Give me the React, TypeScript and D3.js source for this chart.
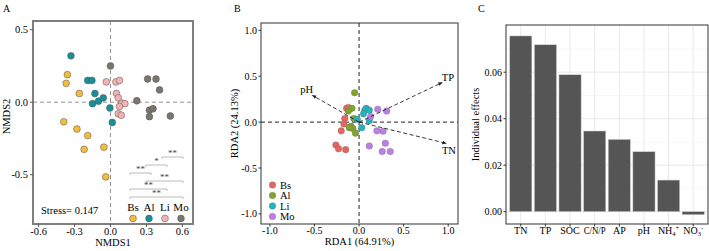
import React from "react";
import * as d3 from "d3";

// ---- Panel A: NMDS ordination ----
const nmdsGroups = ["Bs", "Al", "Li", "Mo"];
const nmdsColors = ["#F2BC3F", "#17909A", "#F4B3B3", "#7A766E"];
const nmdsBs = [[-0.36, 0.19], [-0.37, 0.13], [-0.26, 0.06], [-0.39, -0.135], [-0.28, -0.185], [-0.19, -0.23], [-0.22, -0.325], [-0.055, -0.31], [-0.04, -0.515]];
const nmdsAl = [[-0.33, 0.32], [-0.19, 0.15], [-0.155, 0.15], [-0.13, 0.06], [-0.15, -0.01], [-0.1, 0.007], [-0.06, 0.03], [-0.005, -0.04], [0.015, -0.14]];
const nmdsLi = [[-0.035, 0.14], [0.045, 0.14], [0.075, 0.15], [0.05, 0.06], [0.065, 0.03], [0.095, -0.007], [0.12, -0.01], [0.075, -0.03], [0.065, -0.08], [0.09, -0.09]];
const nmdsMo = [[0.0, 0.25], [0.31, 0.16], [0.38, 0.16], [0.41, 0.085], [0.22, 0.01], [0.325, -0.055], [0.355, -0.045], [0.325, -0.1], [0.5, -0.095]];
const nmdsTicksX = [-0.6, -0.3, 0.0, 0.3, 0.6];
const nmdsTicksY = [0.5, 0.0, -0.5];
const stressValue = 0.147;
// pairwise comparisons: [group i, group j, label]
const nmdsPairs: [number, number, string][] = [
  [2, 3, "**"], [1, 2, "*"], [0, 1, "**"], [1, 3, "**"], [0, 2, "**"], [0, 3, "**"],
];

// ---- Panel B: RDA ----
const rdaGroups = ["Bs", "Al", "Li", "Mo"];
const rdaColors = ["#E2675F", "#7FA52A", "#22B3BF", "#BD7FE6"];
const rdaBs = [[-0.14, 0.15], [-0.12, 0.16], [-0.16, 0.04], [-0.17, -0.02], [-0.2, -0.095], [-0.26, -0.25], [-0.23, -0.29], [-0.15, -0.3]];
const rdaAl = [[-0.05, 0.32], [-0.08, 0.15], [-0.12, 0.12], [-0.06, 0.04], [-0.09, -0.045], [-0.07, -0.07], [-0.11, -0.06], [-0.04, -0.12]];
const rdaLi = [[-0.02, 0.03], [0.065, 0.13], [0.08, 0.15], [0.115, 0.13], [0.05, 0.09], [0.115, 0.015], [0.03, -0.06]];
const rdaMo = [[0.21, 0.14], [0.31, 0.12], [0.13, 0.06], [0.2, -0.095], [0.27, -0.1], [0.115, -0.26], [0.295, -0.23], [0.26, -0.32], [0.35, -0.32]];
const rdaArrowNames = ["pH", "TP", "TN"];
const rdaArrowX = [-0.52, 0.93, 0.975];
const rdaArrowY = [0.29, 0.43, -0.23];
const rdaTicks = [-1.0, -0.5, 0.0, 0.5, 1.0];

// ---- Panel C: individual effects ----
const effectNames = ["TN", "TP", "SOC", "C/N/P", "AP", "pH", "NH4+", "NO3-"];
const effectValues = [0.0756, 0.0718, 0.0589, 0.0347, 0.0311, 0.0258, 0.0136, -0.0013];
const effectTicks = [0.0, 0.02, 0.04, 0.06];

const FONT = "'Liberation Serif', 'DejaVu Serif', serif";

function PanelA() {
  const L = 33, R = 193, T = 21, B = 224;
  const x = d3.scaleLinear().domain([-0.647, 0.689]).range([L, R]);
  const y = d3.scaleLinear().domain([-0.84, 0.56]).range([B, T]);
  const sets = [nmdsBs, nmdsAl, nmdsLi, nmdsMo];
  const labX = d3.scalePoint<string>().domain(nmdsGroups).range([133, 181]);
  const pairY = d3.scaleLinear().domain([0, nmdsPairs.length - 1]).range([157, 197]);
  return (
    <g fontFamily={FONT}>
      <text x={3} y={12} fontSize={10}>A</text>
      <line x1={x(0)} x2={x(0)} y1={T} y2={B} stroke="#888" strokeDasharray="4,3" strokeWidth={0.9} />
      <line x1={L} x2={R} y1={y(0)} y2={y(0)} stroke="#888" strokeDasharray="4,3" strokeWidth={0.9} />
      {sets.map((s, gi) =>
        s.map((p, i) => (
          <circle key={`${gi}-${i}`} cx={x(p[0])} cy={y(p[1])} r={3.4} fill={nmdsColors[gi]} stroke="#555" strokeWidth={0.5} />
        ))
      )}
      {nmdsPairs.map(([a, b, lab], i) => {
        const x1 = labX(nmdsGroups[a])! - 3, x2 = labX(nmdsGroups[b])! + 2, yy = pairY(i);
        return (
          <g key={i}>
            <path d={`M${x1},${yy + 2}V${yy}H${x2}V${yy + 2}`} fill="none" stroke="#aaa" strokeWidth={0.8} />
            <text x={(x1 + x2) / 2} y={yy - 1} fontSize={9} textAnchor="middle" fill="#444">{lab}</text>
          </g>
        );
      })}
      {nmdsGroups.map((g, i) => (
        <g key={g}>
          <text x={labX(g)} y={211} fontSize={11} textAnchor="middle">{g}</text>
          <circle cx={labX(g)} cy={218.5} r={3.4} fill={nmdsColors[i]} stroke="#555" strokeWidth={0.5} />
        </g>
      ))}
      <text x={41} y={214} fontSize={10.5}>Stress= {stressValue}</text>
      <rect x={L} y={T} width={R - L} height={B - T} fill="none" stroke="#7f7f7f" strokeWidth={2} />
      {nmdsTicksX.map((t) => (
        <g key={t}>
          <line x1={x(t)} x2={x(t)} y1={B} y2={B + 3} stroke="#555" />
          <text x={x(t)} y={235} fontSize={10.5} textAnchor="middle">{t.toFixed(1)}</text>
        </g>
      ))}
      {nmdsTicksY.map((t) => (
        <g key={t}>
          <line x1={L - 3} x2={L} y1={y(t)} y2={y(t)} stroke="#555" />
          <text x={L - 5} y={y(t) + 3.5} fontSize={10.5} textAnchor="end">{t.toFixed(1)}</text>
        </g>
      ))}
      <text x={(L + R) / 2} y={246} fontSize={10.5} textAnchor="middle">NMDS1</text>
      <text transform={`translate(10,${(T + B) / 2 - 6}) rotate(-90)`} fontSize={10.5} textAnchor="middle">NMDS2</text>
    </g>
  );
}

function PanelB() {
  const L = 261, R = 458, T = 23, B = 224;
  const x = d3.scaleLinear().domain([-1.1, 1.11]).range([L, R]);
  const y = d3.scaleLinear().domain([-1.11, 1.08]).range([B, T]);
  const sets = [rdaBs, rdaAl, rdaLi, rdaMo];
  const legY = d3.scalePoint<string>().domain(rdaGroups).range([185, 216.5]);
  return (
    <g fontFamily={FONT}>
      <defs>
        <marker id="rdaHead" viewBox="0 0 10 10" refX={8} refY={5} markerWidth={5} markerHeight={5} orient="auto">
          <path d="M0,1L10,5L0,9Z" fill="#222" />
        </marker>
      </defs>
      <text x={234} y={12} fontSize={10}>B</text>
      <line x1={x(0)} x2={x(0)} y1={T} y2={B} stroke="#222" strokeDasharray="4,3" strokeWidth={1} />
      <line x1={L} x2={R} y1={y(0)} y2={y(0)} stroke="#222" strokeDasharray="4,3" strokeWidth={1} />
      {sets.map((s, gi) =>
        s.map((p, i) => (
          <circle key={`${gi}-${i}`} cx={x(p[0])} cy={y(p[1])} r={3.3} fill={rdaColors[gi]} stroke="#666" strokeWidth={0.3} />
        ))
      )}
      {rdaArrowNames.map((n, i) => (
        <line key={n} x1={x(0)} y1={y(0)} x2={x(rdaArrowX[i])} y2={y(rdaArrowY[i])} stroke="#222" strokeWidth={0.9} strokeDasharray="4,2.5" markerEnd="url(#rdaHead)" />
      ))}
      <text x={x(rdaArrowX[0]) - 6} y={y(rdaArrowY[0]) - 3} fontSize={10.5} textAnchor="middle">{rdaArrowNames[0]}</text>
      <text x={x(rdaArrowX[1]) + 6} y={y(rdaArrowY[1]) - 2} fontSize={10.5} textAnchor="middle">{rdaArrowNames[1]}</text>
      <text x={x(rdaArrowX[2]) + 3} y={y(rdaArrowY[2]) + 11} fontSize={10.5} textAnchor="middle">{rdaArrowNames[2]}</text>
      {rdaGroups.map((g, i) => (
        <g key={g}>
          <circle cx={272.5} cy={legY(g)} r={3.3} fill={rdaColors[i]} stroke="#666" strokeWidth={0.3} />
          <text x={280} y={legY(g)! + 3.5} fontSize={10.5}>{g}</text>
        </g>
      ))}
      <rect x={L} y={T} width={R - L} height={B - T} fill="none" stroke="#333" strokeWidth={1} />
      {rdaTicks.map((t) => (
        <g key={`x${t}`}>
          <line x1={x(t)} x2={x(t)} y1={B} y2={B + 2.5} stroke="#333" />
          <text x={x(t)} y={234} fontSize={10} textAnchor="middle">{t.toFixed(1)}</text>
        </g>
      ))}
      {rdaTicks.map((t) => (
        <g key={`y${t}`}>
          <line x1={L - 2.5} x2={L} y1={y(t)} y2={y(t)} stroke="#333" />
          <text x={L - 4} y={y(t) + 3.5} fontSize={10} textAnchor="end">{t.toFixed(1)}</text>
        </g>
      ))}
      <text x={(L + R) / 2} y={245} fontSize={10.5} textAnchor="middle">RDA1 (64.91%)</text>
      <text transform={`translate(238,${(T + B) / 2}) rotate(-90)`} fontSize={10.5} textAnchor="middle">RDA2 (24.13%)</text>
    </g>
  );
}

function EffectLabel({ name, x, y }: { name: string; x: number; y: number }) {
  if (name === "NH4+" || name === "NO3-") {
    const base = name.slice(0, 2), sub = name[2], sup = name[3] === "-" ? "-" : "+";
    return (
      <text x={x} y={y} fontSize={10} textAnchor="middle">
        {base}
        <tspan fontSize={6.5} dy={2}>{sub}</tspan>
        <tspan fontSize={6.5} dy={-6}>{sup}</tspan>
      </text>
    );
  }
  if (name === "C/N/P") {
    return <text x={x} y={y} fontSize={10} textAnchor="middle" textLength={22} lengthAdjust="spacingAndGlyphs">{name}</text>;
  }
  return <text x={x} y={y} fontSize={10} textAnchor="middle">{name}</text>;
}

function PanelC() {
  const L = 506, R = 708, T = 25, B = 224;
  const x = d3.scaleBand<string>().domain(effectNames).range([L, R]).paddingInner(0.1).paddingOuter(0.15);
  const y = d3.scaleLinear().domain([-0.0053, 0.0803]).range([B, T]);
  const minor = [0.01, 0.03, 0.05, 0.07];
  return (
    <g fontFamily={FONT}>
      <text x={478} y={12} fontSize={10}>C</text>
      {effectTicks.map((t) => (
        <line key={`g${t}`} x1={L} x2={R} y1={y(t)} y2={y(t)} stroke="#e6e6e6" strokeWidth={0.9} />
      ))}
      {minor.map((t) => (
        <line key={`m${t}`} x1={L} x2={R} y1={y(t)} y2={y(t)} stroke="#f2f2f2" strokeWidth={0.6} />
      ))}
      {effectNames.map((n) => (
        <line key={`v${n}`} x1={x(n)! + x.bandwidth() / 2} x2={x(n)! + x.bandwidth() / 2} y1={T} y2={B} stroke="#e6e6e6" strokeWidth={0.9} />
      ))}
      {effectNames.map((n, i) => {
        const v = effectValues[i];
        return (
          <rect key={n} x={x(n)} width={x.bandwidth()} y={y(Math.max(0, v))} height={Math.abs(y(v) - y(0))} fill="#555555" stroke="#cfcfcf" strokeWidth={0.5} />
        );
      })}
      <rect x={L} y={T} width={R - L} height={B - T} fill="none" stroke="#333" strokeWidth={1} />
      {effectTicks.map((t) => (
        <g key={t}>
          <line x1={L - 2.5} x2={L} y1={y(t)} y2={y(t)} stroke="#333" />
          <text x={L - 4} y={y(t) + 3.5} fontSize={10} textAnchor="end">{t.toFixed(2)}</text>
        </g>
      ))}
      {effectNames.map((n) => (
        <g key={`t${n}`}>
          <line x1={x(n)! + x.bandwidth() / 2} x2={x(n)! + x.bandwidth() / 2} y1={B} y2={B + 2.5} stroke="#333" />
          <EffectLabel name={n} x={x(n)! + x.bandwidth() / 2} y={234} />
        </g>
      ))}
      <text transform={`translate(479,${(T + B) / 2}) rotate(-90)`} fontSize={10.5} textAnchor="middle">Individual effects</text>
    </g>
  );
}

export default function App() {
  return (
    <svg width={709} height={251} style={{ position: "absolute", left: 0, top: 0, background: "#fff" }}>
      <rect width={709} height={251} fill="#fff" />
      <PanelA />
      <PanelB />
      <PanelC />
    </svg>
  );
}
